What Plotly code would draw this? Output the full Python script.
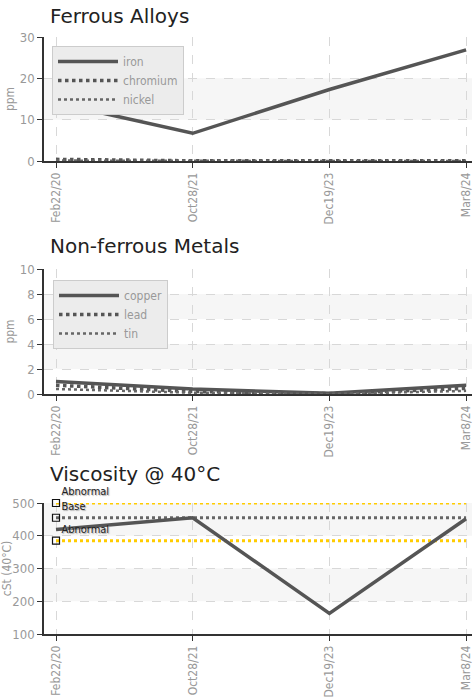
import plotly.graph_objects as go

W, H = 474, 697
dates = ["Feb22/20", "Oct28/21", "Dec19/23", "Mar8/24"]

iron = [14.1, 6.7, 17.3, 26.9]
chromium = [0.4, 0.05, 0.05, 0.05]
nickel = [0.1, 0.0, 0.0, 0.0]

copper = [1.0, 0.4, 0.05, 0.7]
lead = [0.7, 0.2, 0.03, 0.45]
tin = [0.4, 0.1, 0.0, 0.25]

viscosity = [419, 455, 163, 452]
visc_upper = 500
visc_base = 455
visc_lower = 385

COND = "DejaVu Sans Condensed, Liberation Sans Narrow, Roboto Condensed, Roboto, sans-serif"
TICKFONT = dict(family=COND, size=13, color="#999999")
XTICKFONT = dict(family=COND, size=12, color="#999999")
TITLEFONT = dict(family="DejaVu Sans, Verdana, sans-serif", size=20, color="#222222")
LINE = "#555555"

L, R = 44, 472
def yfrac(px):
    return 1 - px / H
def xfrac(px):
    return (px - L) / (R - L)

fig = go.Figure()

panels = [
    dict(ax="", top=37, bot=161, rng=[0, 30], dtick=10, bands=[(10, 20)], title="Ferrous Alloys", ttl=16, ytitle="ppm", so=3),
    dict(ax="2", top=269, bot=394, rng=[0, 10], dtick=2, bands=[(2, 4), (6, 8)], title="Non-ferrous Metals", ttl=246, ytitle="ppm", so=3),
    dict(ax="3", top=503, bot=634, rng=[100, 500], dtick=100, bands=[(200, 300), (400, 500)], title="Viscosity @ 40°C", ttl=474, ytitle="cSt (40°C)", so=5),
]

xr = [(L - 56) / 136.7, (R - 56) / 136.7]

for p in panels:
    a = p["ax"]
    fig.update_layout(**{
        "xaxis" + a: dict(
            domain=[0, 1], anchor="y" + a, type="category", categoryorder="array", categoryarray=dates,
            range=xr, tickangle=-90, tickfont=XTICKFONT, showline=True, linecolor="#333333", linewidth=1.5,
            ticks="outside", ticklen=5, tickcolor="#333333", showgrid=True, gridcolor="#d8d8d8",
            griddash="dash", gridwidth=1, zeroline=False, automargin=False, fixedrange=True,
        ),
        "yaxis" + a: dict(
            domain=[yfrac(p["bot"]), yfrac(p["top"])], anchor="x" + a, range=p["rng"], dtick=p["dtick"],
            tickfont=TICKFONT, showline=True, linecolor="#333333", linewidth=1.5, ticks="outside",
            ticklen=5, tickcolor="#333333", showgrid=True, gridcolor="#d8d8d8", griddash="dash",
            zeroline=False, automargin=False,
            title=dict(text=p["ytitle"], font=dict(family=COND, size=12, color="#999999"), standoff=p["so"]),
        ),
    })
    for (y0, y1) in p["bands"]:
        fig.add_shape(type="rect", xref="x" + a + " domain", yref="y" + a, x0=0, x1=1, y0=y0, y1=y1,
                      fillcolor="#f6f6f6", line_width=0, layer="below")
    fig.add_annotation(text=p["title"], xref="paper", yref="paper", x=xfrac(48), y=yfrac(p["ttl"]),
                       xanchor="left", yanchor="middle", showarrow=False, font=TITLEFONT)

def add_line(x, y, name, ax, width, dash, legend, color=LINE, show=True):
    fig.add_trace(go.Scatter(x=x, y=y, name=name, mode="lines", xaxis="x" + ax, yaxis="y" + ax,
                             line=dict(color=color, width=width, dash=dash), legend=legend, showlegend=show))

add_line(dates, iron, "iron", "", 3.5, "solid", "legend")
add_line(dates, chromium, "chromium", "", 3.5, "dot", "legend")
add_line(dates, nickel, "nickel", "", 2.5, "dot", "legend", color="#666666")

add_line(dates, copper, "copper", "2", 3.5, "solid", "legend2")
add_line(dates, lead, "lead", "2", 3.5, "dot", "legend2")
add_line(dates, tin, "tin", "2", 2.5, "dot", "legend2", color="#666666")

# viscosity limits
for val, col in [(visc_upper, "#ffcc00"), (visc_base, "#666666"), (visc_lower, "#ffcc00")]:
    fig.add_trace(go.Scatter(x=dates, y=[val] * len(dates), mode="lines", xaxis="x3", yaxis="y3",
                             line=dict(color=col, width=3, dash="dot"), showlegend=False, hoverinfo="skip"))
add_line(dates, viscosity, "viscosity", "3", 3.5, "solid", "legend3", show=False)
for val, lbl in [(visc_upper, "Abnormal"), (visc_base, "Base"), (visc_lower, "Abnormal")]:
    fig.add_trace(go.Scatter(x=[dates[0]], y=[val], mode="markers+text", xaxis="x3", yaxis="y3",
                             marker=dict(symbol="square-open", size=7, color="#111111", line=dict(width=1.2)),
                             text=[lbl], textposition="top right", cliponaxis=False,
                             textfont=dict(family=COND, size=11, color="#222222", shadow="1px 1px 1px #aaaaaa"),
                             showlegend=False))

legend_style = dict(bgcolor="#ececec", bordercolor="#cccccc", borderwidth=1,
                    font=dict(family=COND, size=12, color="#999999"),
                    xanchor="left", yanchor="top", itemwidth=60, tracegroupgap=0)
fig.update_layout(
    width=W, height=H, margin=dict(l=L, r=W - R, t=0, b=0),
    paper_bgcolor="white", plot_bgcolor="white",
    legend=dict(x=xfrac(52), y=yfrac(46), **legend_style),
    legend2=dict(x=xfrac(53), y=yfrac(280), **legend_style),
    showlegend=True,
)

fig.write_html(
    "out.html",
    config={"displayModeBar": False},
    post_script="document.body.style.margin='0';document.body.style.overflow='hidden';"
                "document.documentElement.style.overflow='hidden';",
)
